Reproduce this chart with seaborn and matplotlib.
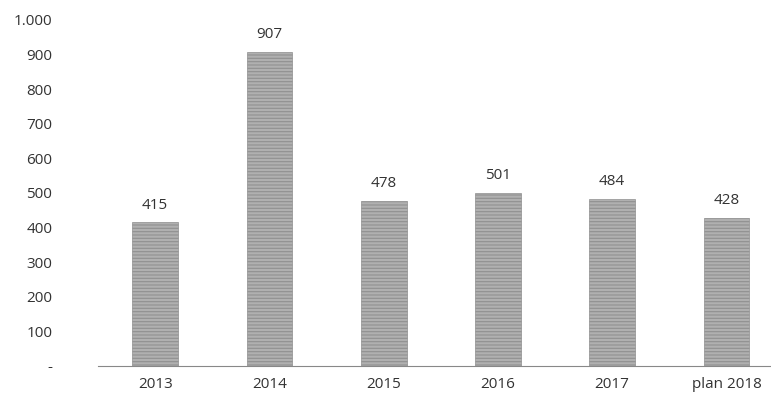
import matplotlib
matplotlib.use("Agg")
import matplotlib.pyplot as plt
import pandas as pd
import seaborn as sns

years = ["2013", "2014", "2015", "2016", "2017", "plan 2018"]
values = [415, 907, 478, 501, 484, 428]
yticks = [0, 100, 200, 300, 400, 500, 600, 700, 800, 900, 1000]
ytick_labels = ["-", "100", "200", "300", "400", "500", "600", "700", "800", "900", "1.000"]

df = pd.DataFrame({"year": years, "value": values})

sns.set_style("white")
plt.rcParams["font.family"] = ["Open Sans", "DejaVu Sans"]
plt.rcParams["hatch.color"] = "#6e6e6e"
plt.rcParams["hatch.linewidth"] = 0.8

fig = plt.figure(figsize=(7.71, 4.04), dpi=100)
ax = fig.add_axes([98 / 771, 38 / 404, 1 - 98 / 771, 346 / 404])

sns.barplot(data=df, x="year", y="value", color="#b0b0b0", width=0.4,
            saturation=1, ax=ax)
for bar in ax.patches:
    bar.set_hatch("-----")
    bar.set_edgecolor("#909090")
    bar.set_linewidth(0.5)

for i, v in enumerate(values):
    ax.text(i, v + 28, str(v), ha="center", va="bottom", fontsize=11,
            color="#333333")

ax.set_ylim(0, 1000)
ax.set_xlim(-0.5, 5.39)
ax.set_yticks(yticks)
ax.set_yticklabels(ytick_labels)
ax.set_xlabel("")
ax.set_ylabel("")
for s in ["top", "right", "left"]:
    ax.spines[s].set_visible(False)
ax.spines["bottom"].set_color("#888888")
ax.spines["bottom"].set_linestyle((0, (1, 1)))
ax.tick_params(axis="y", length=0, pad=33, labelsize=11, labelcolor="#333333")
ax.tick_params(axis="x", length=0, pad=8, labelsize=11, labelcolor="#333333")

fig.savefig("out.png", dpi=100)
